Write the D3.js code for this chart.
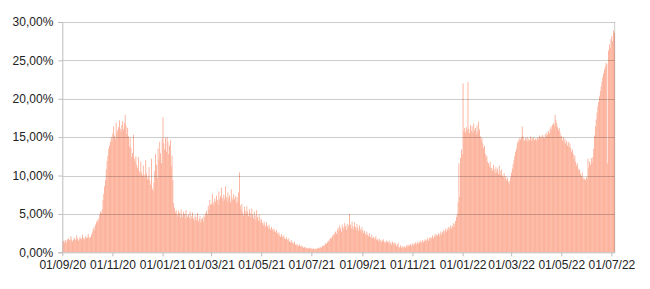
<!DOCTYPE html>
<html>
<head>
<meta charset="utf-8">
<script src="https://cdn.jsdelivr.net/npm/d3@7"></script>
<style>
  html, body { margin: 0; padding: 0; background: #fff; }
  svg { display: block; }
  text { font-family: "Liberation Sans", Arial, sans-serif; }
</style>
</head>
<body>
<svg id="chart" width="650" height="289"></svg>
<script>
// Daily values (%), one array per month, starting 01/09/2020
const sep20 = [1.4,1.5,1.3,1.6,1.5,1.2,1.7, 1.8,1.6,1.5,2.1,1.7,1.4,1.6, 1.9,1.7,1.6,2.2,1.8,1.5,1.7, 2.0,1.8,1.7,2.3,1.9,1.6,1.8, 2.1,1.9];
const oct20 = [1.9,2.4,2.0,1.8,2.0,2.3,2.6, 3.0,3.3,2.9,3.6,3.9,4.2,4.0, 4.4,4.9,5.3,5.1,5.6,6.8,7.6, 8.6,9.4,10.8,11.9,12.6,13.5,13.9, 14.4,15.0,14.6];
const nov20 = [15.5,16.4,15.2,14.8,16.9,15.6,15.9, 16.3,17.2,16.1,15.7,16.6,17.1,16.0, 16.8,17.9,16.5,15.4,16.2,15.1,13.8, 14.9,13.6,12.4,12.9,15.3,12.2,11.8, 12.5,11.4];
const dec20 = [11.0,12.4,10.6,10.2,11.8,10.4,10.0, 11.3,10.1,9.8,12.0,10.3,9.5,9.9, 11.1,9.4,8.8,12.2,8.3,8.0,9.1, 10.6,12.8,11.4,9.7,13.5,12.1,14.4, 12.9,11.6,14.8];
const jan21 = [17.6,14.2,13.4,14.9,13.1,15.0,14.4, 12.8,13.9,14.6,11.2,12.6,9.4,6.4, 5.8,5.2,5.5,5.0,4.7,5.4,5.1, 4.5,5.6,4.9,4.6,5.3,5.0,4.4, 5.5,4.8,4.6];
const feb21 = [4.9,4.5,5.3,4.3,4.7,5.2,4.4, 4.1,4.8,4.6,4.2,5.1,4.0,4.4, 4.7,3.9,4.3,4.5,4.0,4.8,4.6, 5.1,5.4,4.9,6.1,5.6,6.8,6.2];
const mar21 = [6.3,7.6,6.5,6.1,7.0,6.6,7.4, 6.8,6.2,7.9,6.9,7.3,8.4,7.1, 6.7,7.5,6.9,8.6,7.2,6.6,7.8, 7.0,7.4,6.5,8.2,7.1,6.8,7.6, 6.9,7.3,6.4];
const apr21 = [7.2,6.6,7.8,10.4,6.1,5.5,6.3, 5.2,4.8,5.9,5.4,4.9,6.0,5.3, 4.7,5.6,5.1,4.6,5.7,4.9,4.4, 5.3,4.8,4.2,5.5,4.6,4.1,4.9, 4.4,3.9];
const may21 = [4.3,3.8,3.5,4.0,3.6,3.3,3.9, 3.4,3.1,3.6,3.2,2.9,3.3,3.0, 2.7,3.1,2.8,2.6,2.9,2.5,2.3, 2.6,2.2,2.0,2.4,2.1,1.9,2.2, 1.8,1.7,2.0];
const jun21 = [1.7,1.5,1.8,1.4,1.3,1.6,1.2, 1.3,1.1,1.4,1.0,0.9,1.1,0.9, 0.8,1.0,0.8,0.7,0.9,0.7,0.6, 0.7,0.6,0.5,0.6,0.5,0.5,0.6, 0.5,0.5];
const jul21 = [0.5,0.4,0.5,0.4,0.4,0.5,0.4, 0.5,0.6,0.5,0.6,0.7,0.6,0.8, 0.9,0.8,1.0,1.2,1.1,1.3,1.5, 1.4,1.7,1.9,1.8,2.1,2.3,2.2, 2.5,2.7,2.4];
const aug21 = [2.9,3.2,2.8,3.5,3.1,2.7,3.6, 3.3,3.0,3.8,3.4,2.9,3.7,3.2, 3.5,5.0,3.6,3.1,4.0,3.4,3.0, 3.9,3.3,2.9,3.7,3.2,2.8,3.5, 3.0,2.7,3.3];
const sep21 = [2.9,2.5,2.8,2.4,2.2,2.7,2.3, 2.1,2.5,2.0,1.9,2.3,1.8,2.0, 1.7,1.9,2.1,1.6,1.7,1.5,1.8, 1.4,1.6,1.3,1.5,1.7,1.3,1.4, 1.2,1.5];
const oct21 = [1.4,1.2,1.5,1.1,1.3,1.0,1.4, 1.2,0.9,1.3,1.1,0.8,1.0,1.2, 0.7,0.6,0.9,0.6,0.8,0.5,0.7, 0.8,0.6,0.9,0.7,1.0,0.8,0.9, 1.1,0.8,1.0];
const nov21 = [1.2,0.9,1.1,1.3,1.0,1.2,1.4, 1.1,1.3,1.5,1.2,1.4,1.6,1.3, 1.5,1.7,1.4,1.6,1.9,1.5,1.8, 2.0,1.7,1.9,2.2,1.8,2.1,2.4, 2.0,2.3];
const dec21 = [2.2,2.5,2.1,2.4,2.7,2.3,2.6, 2.9,2.5,2.8,3.1,2.7,3.0,3.3, 2.9,3.2,3.5,3.1,3.4,3.8,3.3, 3.7,4.1,4.6,5.0,6.5,11.6,7.2, 12.3,13.4,12.8];
const jan22 = [22.0,15.8,16.2,15.6,16.3,15.9,22.2, 16.1,15.5,16.6,15.8,16.4,15.6,16.8, 15.9,16.2,15.4,16.5,15.7,17.0,16.0, 15.1,14.6,14.9,14.2,13.6,13.9,12.8, 12.3,12.6,11.8];
const feb22 = [11.6,11.2,11.8,10.9,11.0,10.6,11.4, 10.8,10.3,11.1,10.5,10.9,10.2,11.3, 10.6,10.1,10.8,10.0,9.8,10.3,9.6, 9.9,9.4,9.7,9.2,8.9,9.3,9.8];
const mar22 = [10.4,10.9,11.5,12.0,12.6,13.1,13.5, 14.2,14.6,14.4,14.9,14.7,15.0,16.4, 15.1,14.7,14.5,14.9,14.6,15.0,14.4, 14.8,14.6,15.1,14.5,14.9,14.7,15.0, 14.6,14.8,14.5];
const apr22 = [14.8,15.0,14.7,15.2,14.9,15.1,14.8, 15.3,15.0,14.9,15.4,15.1,15.6,15.3, 15.8,15.5,16.1,16.4,16.0,16.6,16.8, 16.5,17.9,17.2,16.8,16.3,15.9,16.2, 15.6,15.2];
const may22 = [15.1,14.6,15.0,14.3,14.8,14.1,14.5, 13.9,14.4,13.7,14.2,13.6,13.1,13.4, 12.8,12.2,12.6,11.8,11.3,11.6,10.9, 10.6,10.8,10.2,9.9,10.4,9.7,9.5, 9.6,9.4,9.8];
const jun22 = [9.6,12.2,11.0,11.8,11.4,12.3,11.7, 12.4,13.5,15.2,16.4,17.3,18.2,19.0, 19.6,20.3,21.0,21.6,22.2,22.8,23.3, 23.8,24.2,24.7,24.5,11.6,26.3,27.1, 26.6,27.8];
const jul22 = [28.2,27.5,28.9,28.6];

const startDate = "2020-09-01";
const yTicks = [0, 5, 10, 15, 20, 25, 30];
const xTickDates = ["2020-09-01","2020-11-01","2021-01-01","2021-03-01","2021-05-01","2021-07-01",
                    "2021-09-01","2021-11-01","2022-01-01","2022-03-01","2022-05-01","2022-07-01"];

const months = [sep20, oct20, nov20, dec20, jan21, feb21, mar21, apr21, may21, jun21, jul21, aug21,
                sep21, oct21, nov21, dec21, jan22, feb22, mar22, apr22, may22, jun22, jul22];

const values = months.flat();
const parse = d3.utcParse("%Y-%m-%d");
const start = parse(startDate);
const data = values.map((v, i) => ({ date: d3.utcDay.offset(start, i), value: v }));
const end = d3.utcDay.offset(start, values.length);

const W = 650, H = 289;
const margin = { top: 22, right: 35.3, bottom: 36.7, left: 62.3 };

const svg = d3.select("#chart");
const x = d3.scaleUtc().domain([start, end]).range([margin.left, W - margin.right]);
const y = d3.scaleLinear().domain([0, 30]).range([H - margin.bottom, margin.top]);

const locale = d3.formatLocale({ decimal: ",", thousands: ".", grouping: [3], currency: ["", "€"] });
const fmtPct = v => locale.format(".2f")(v) + "%";
const fmtDate = d3.utcFormat("%d/%m/%y");

// bars
svg.append("g")
  .selectAll("rect")
  .data(data)
  .join("rect")
  .attr("x", d => x(d.date))
  .attr("width", d => x(d3.utcDay.offset(d.date, 1)) - x(d.date))
  .attr("y", d => y(d.value))
  .attr("height", d => y(0) - y(d.value))
  .attr("fill", "#fca78d");

// gridlines (drawn over the bars)
svg.append("g")
  .selectAll("line")
  .data(yTicks.filter(t => t > 0))
  .join("line")
  .attr("x1", margin.left).attr("x2", W - margin.right)
  .attr("y1", d => Math.round(y(d)) + 0.5).attr("y2", d => Math.round(y(d)) + 0.5)
  .attr("stroke", "rgba(0,0,0,0.2)")
  .attr("stroke-width", 1);

// right border
svg.append("line")
  .attr("x1", W - margin.right).attr("x2", W - margin.right)
  .attr("y1", y(30)).attr("y2", y(0))
  .attr("stroke", "rgba(0,0,0,0.2)");

// y axis
const yAxis = svg.append("g")
  .attr("transform", `translate(${margin.left},0)`)
  .call(d3.axisLeft(y).tickValues(yTicks).tickFormat(fmtPct).tickSize(4).tickPadding(5));
yAxis.select(".domain").attr("stroke", "#bdbdbd");
yAxis.selectAll(".tick line").attr("stroke", "#bdbdbd");
yAxis.selectAll("text").attr("font-size", 12).attr("fill", "#222")
  .attr("font-family", "'Liberation Sans', Arial, sans-serif");

// x axis
const xAxis = svg.append("g")
  .attr("transform", `translate(0,${y(0)})`)
  .call(d3.axisBottom(x).tickValues(xTickDates.map(parse)).tickFormat(fmtDate).tickSize(4).tickPadding(4).tickSizeOuter(0));
xAxis.select(".domain").attr("stroke", "#bdbdbd");
xAxis.selectAll(".tick line").attr("stroke", "#bdbdbd");
xAxis.selectAll("text").attr("font-size", 12).attr("fill", "#222")
  .attr("font-family", "'Liberation Sans', Arial, sans-serif");
</script>
</body>
</html>
